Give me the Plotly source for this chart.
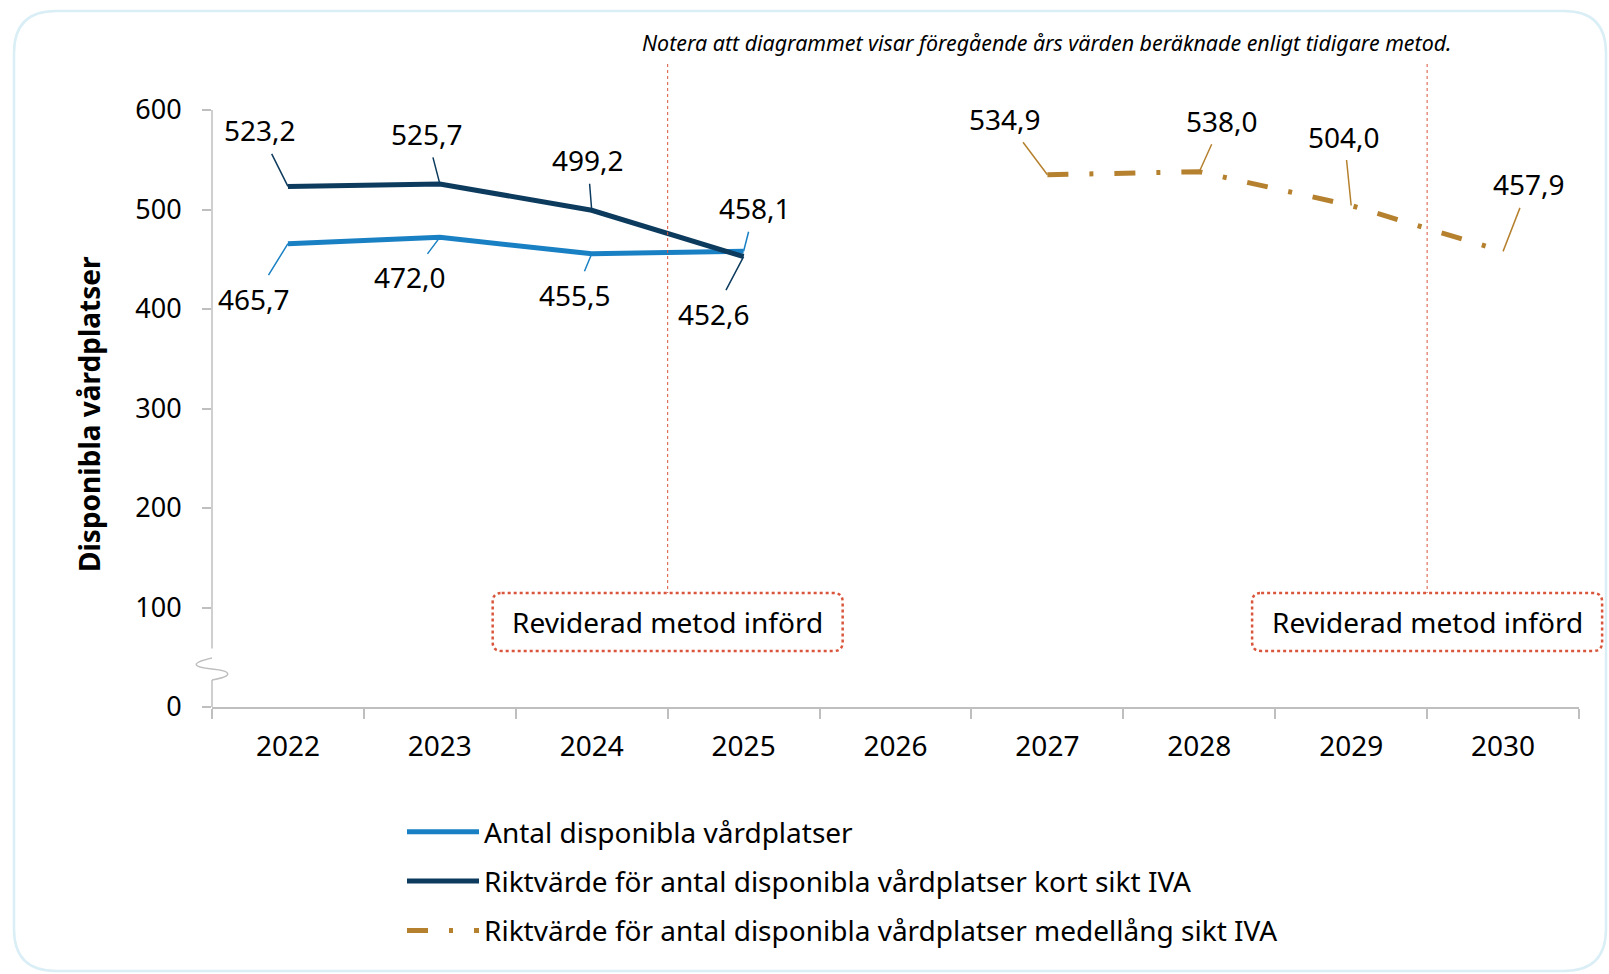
import plotly.graph_objects as go

# ---------------- data ----------------
years = ["2022", "2023", "2024", "2025", "2026", "2027", "2028", "2029", "2030"]

antal_years = ["2022", "2023", "2024", "2025"]
antal_values = [465.7, 472.0, 455.5, 458.1]

kort_years = ["2022", "2023", "2024", "2025"]
kort_values = [523.2, 525.7, 499.2, 452.6]

medel_years = ["2027", "2028", "2029", "2030"]
medel_values = [534.9, 538.0, 504.0, 457.9]

y_ticks = [0, 100, 200, 300, 400, 500, 600]

names = [
    "Antal disponibla vårdplatser",
    "Riktvärde för antal disponibla vårdplatser kort sikt IVA",
    "Riktvärde för antal disponibla vårdplatser medellång sikt IVA",
]

# label offsets (pixels, text centre relative to point)
antal_off = [(-34, 55), (-30, 40), (-17, 41), (11, -43)]
kort_off = [(-28, -56), (-13, -50), (-4, -50), (-30, 57)]
medel_off = [(-42, -56), (23, -51), (-7, -69), (26, -67)]

# ---------------- styling ----------------
C_LIGHT = "#1A80C4"
C_NAVY = "#0D3B5E"
C_GOLD = "#B5812F"
C_RED = "#D9553B"
C_AXIS = "#BFBFBF"
FONT = "Noto Sans"
FS = 28

W_FIG, H_FIG = 1609, 974
L, T = 212, 110
PW, PH = 1367, 597
R = W_FIG - L - PW
B = H_FIG - T - PH


def fx(px):
    return (px - L) / PW


def fy(py):
    return (T + PH - py) / PH


def path_px(points_cmds):
    out = []
    for item in points_cmds:
        if isinstance(item, str):
            out.append(item)
        else:
            out.append(f"{fx(item[0]):.5f},{fy(item[1]):.5f}")
    return " ".join(out)


def rounded_rect(x0, y0, x1, y1, r):
    return path_px([
        "M", (x0 + r, y0), "L", (x1 - r, y0), "Q", (x1, y0), (x1, y0 + r),
        "L", (x1, y1 - r), "Q", (x1, y1), (x1 - r, y1),
        "L", (x0 + r, y1), "Q", (x0, y1), (x0, y1 - r),
        "L", (x0, y0 + r), "Q", (x0, y0), (x0 + r, y0), "Z",
    ])


fig = go.Figure()

fig.add_trace(go.Scatter(x=antal_years, y=antal_values, mode="lines", name=names[0],
                         line=dict(color=C_LIGHT, width=5), legendgroup="a"))
fig.add_trace(go.Scatter(x=kort_years, y=kort_values, mode="lines", name=names[1],
                         line=dict(color=C_NAVY, width=5), legendgroup="b"))
fig.add_trace(go.Scatter(x=medel_years, y=medel_values, mode="lines", name=names[2],
                         line=dict(color=C_GOLD, width=5, dash="21px,21px,4px,21px"),
                         legendgroup="c"))

annotations = []


def fmt(v):
    return f"{v:.1f}".replace(".", ",")


for xs, vs, offs, col in [(antal_years, antal_values, antal_off, C_LIGHT),
                          (kort_years, kort_values, kort_off, C_NAVY),
                          (medel_years, medel_values, medel_off, C_GOLD)]:
    for xv, v, (ax, ay) in zip(xs, vs, offs):
        annotations.append(dict(
            x=years.index(xv), y=v, xref="x", yref="y", text=fmt(v), showarrow=True,
            arrowhead=0, arrowwidth=1.5, arrowcolor=col, ax=ax, ay=ay,
            font=dict(family=FONT, size=FS, color="#000000"), borderpad=4,
        ))

# note text
annotations.append(dict(
    x=fx(1047), y=fy(43), xref="paper", yref="paper", showarrow=False,
    text="Notera att diagrammet visar föregående års värden beräknade enligt tidigare metod.",
    font=dict(family=FONT, size=21.4, color="#000000", style="italic"),
    xanchor="center", yanchor="middle",
))

# y-axis title
annotations.append(dict(
    x=fx(89), y=fy(414), xref="paper", yref="paper", showarrow=False,
    text="<b>Disponibla vårdplatser</b>", textangle=-90,
    font=dict(family=FONT, size=FS, color="#000000"),
    xanchor="center", yanchor="middle",
))

shapes = []

# outer rounded border
shapes.append(dict(type="path", xref="paper", yref="paper",
                   path=rounded_rect(14, 11, 1606, 971, 42),
                   line=dict(color="#DAEEF6", width=2.5), layer="below"))

# method-change markers
for cat_pos in [2.5, 7.5]:
    cx = L + PW / 9 * (cat_pos + 0.5)
    shapes.append(dict(type="line", xref="x", yref="paper", x0=cat_pos, x1=cat_pos,
                       y0=fy(64), y1=fy(593), line=dict(color=C_RED, width=1, dash="dot")))
    shapes.append(dict(type="path", xref="paper", yref="paper",
                       path=rounded_rect(cx - 175, 593, cx + 175, 651, 9),
                       line=dict(color=C_RED, width=2.5, dash="dot"),
                       fillcolor="white"))
    annotations.append(dict(x=fx(cx), y=fy(622), xref="paper", yref="paper",
                            showarrow=False, text="Reviderad metod införd",
                            font=dict(family=FONT, size=FS, color="#000000"),
                            xanchor="center", yanchor="middle"))

# y axis line with break symbol
shapes.append(dict(type="line", xref="paper", yref="paper", x0=0, x1=0,
                   y0=fy(T), y1=fy(648.5), line=dict(color=C_AXIS, width=1.5)))
shapes.append(dict(type="line", xref="paper", yref="paper", x0=0, x1=0,
                   y0=fy(680), y1=fy(T + PH), line=dict(color=C_AXIS, width=1.5)))
shapes.append(dict(type="path", xref="paper", yref="paper",
                   path=path_px(["M", (L, 658), "C", (L - 22, 663), (L - 20, 667), (L, 669),
                                 "C", (L + 20, 671), (L + 22, 676), (L, 680)]),
                   line=dict(color=C_AXIS, width=1.5)))

fig.update_layout(
    width=W_FIG, height=H_FIG,
    margin=dict(l=L, r=R, t=T, b=B),
    paper_bgcolor="white", plot_bgcolor="white",
    font=dict(family=FONT, size=FS, color="#000000"),
    showlegend=True,
    legend=dict(
        x=fx(402), y=fy(807), xanchor="left", yanchor="top",
        font=dict(family=FONT, size=FS, color="#000000"),
        tracegroupgap=10, bgcolor="rgba(0,0,0,0)", itemwidth=72,
    ),
    xaxis=dict(
        type="category", categoryorder="array", categoryarray=years,
        tickvals=years, range=[-0.5, 8.5], showgrid=False, zeroline=False,
        showline=True, linecolor=C_AXIS, linewidth=1.5,
        ticks="outside", ticklen=10, tickcolor=C_AXIS, tickwidth=1.5,
        tickson="boundaries", ticklabelstandoff=14,
        tickfont=dict(family=FONT, size=FS, color="#000000"),
    ),
    yaxis=dict(
        range=[0, 600], tickvals=y_ticks, showgrid=False, zeroline=False,
        showline=False, ticks="outside", ticklen=9, tickcolor=C_AXIS, tickwidth=1.5,
        ticklabelstandoff=15,
        tickfont=dict(family=FONT, size=27, color="#000000"),
    ),
    shapes=shapes,
    annotations=annotations,
)

fig.write_html("out.html", config={"displayModeBar": False},
               post_script="document.body.style.margin='0px';")
